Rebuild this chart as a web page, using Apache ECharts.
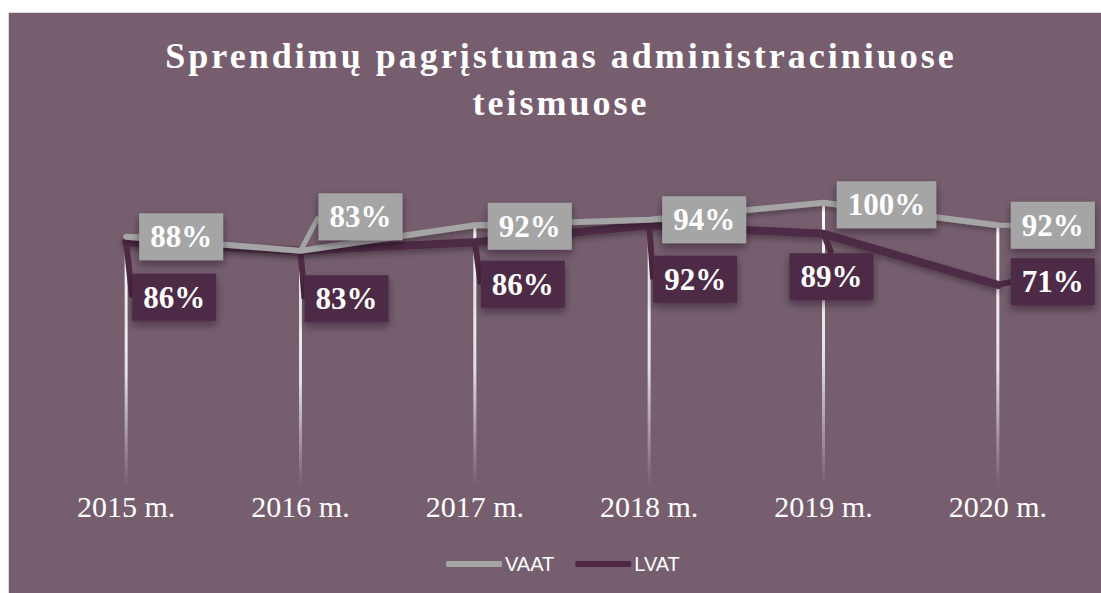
<!DOCTYPE html>
<html>
<head>
<meta charset="utf-8">
<script src="https://cdn.jsdelivr.net/npm/echarts@6/dist/echarts.min.js"></script>
<style>
  html, body { margin: 0; padding: 0; background: #fff; }
  #frame { position: absolute; left: 8px; top: 12px; border-left: 1px solid #d9d9d9; border-top: 1px solid #d9d9d9; }
  #main { width: 1092px; height: 580px; }
</style>
</head>
<body>
<div id="frame"><div id="main"></div></div>
<script>
// duomenys
var TITLE_LINES = ['Sprendimų pagrįstumas administraciniuose', 'teismuose'];
var CATEGORIES = ['2015 m.', '2016 m.', '2017 m.', '2018 m.', '2019 m.', '2020 m.'];
var VAAT = [88, 83, 92, 94, 100, 92];
var LVAT = [86, 83, 86, 92, 89, 71];

// etikečių poslinkiai (tik išdėstymas)
var VAAT_LABEL_SHIFT = [[55, 0], [60, -34], [55, 1], [55, 0], [63, 2], [55, 0]];
var LVAT_LABEL_SHIFT = [[48, 55], [46, 48], [48, 42], [46, 54], [8, 43], [55, -3]];

var BG = '#765E6F';
var GREY = '#A5A5A5';
var PLUM = '#4E2944';

// vertikalios linijos iki ašies - nuo aukštesnio taško
var drop = CATEGORIES.map(function (c, i) {
	return Math.max(VAAT[i], LVAT[i]);
});

function pct(p) {
	return p.value + '%';
}

function boxLabel(color) {
	return {
		show: true,
		position: 'inside',
		formatter: pct,
		color: '#fff',
		fontFamily: 'Liberation Serif',
		fontWeight: 'bold',
		fontSize: 31,
		lineHeight: 31,
		backgroundColor: color,
		padding: [8, 11],
		shadowColor: 'rgba(30,10,25,0.45)',
		shadowBlur: 8,
		shadowOffsetY: 4
	};
}

var chart = echarts.init(document.getElementById('main'), null, { renderer: 'svg' });

chart.setOption({
	backgroundColor: BG,
	animation: false,
	title: {
		text: TITLE_LINES.join('\n'),
		left: 552,
		top: 19,
		padding: 0,
		textAlign: 'center',
		textStyle: {
			color: '#fff',
			fontFamily: 'Liberation Serif',
			fontWeight: 'bold',
			fontSize: 36,
			lineHeight: 47
		}
	},
	legend: {
		data: ['VAAT', 'LVAT'],
		left: 437,
		top: 541,
		padding: 0,
		icon: 'roundRect',
		itemWidth: 56,
		itemHeight: 6,
		itemGap: 21,
		textStyle: {
			color: '#fff',
			fontFamily: 'Liberation Sans',
			fontSize: 20,
			padding: [0, 0, 0, -2]
		}
	},
	grid: {
		left: 30,
		right: 16,
		top: 133,
		bottom: 107,
		containLabel: false
	},
	xAxis: {
		type: 'category',
		data: CATEGORIES,
		boundaryGap: true,
		axisLine: { show: false },
		axisTick: { show: false },
		splitLine: { show: false },
		axisLabel: {
			color: '#fff',
			fontFamily: 'Liberation Serif',
			fontSize: 30,
			margin: 5
		}
	},
	yAxis: {
		type: 'value',
		min: 0,
		max: 120,
		show: false
	},
	series: [
		{
			name: 'drop',
			type: 'bar',
			data: drop,
			barWidth: 3,
			z: 1,
			silent: true,
			itemStyle: {
				color: new echarts.graphic.LinearGradient(0, 0, 0, 1, [
					{ offset: 0, color: 'rgba(255,255,255,1)' },
					{ offset: 0.55, color: 'rgba(255,255,255,0.8)' },
					{ offset: 1, color: 'rgba(255,255,255,0)' }
				])
			}
		},
		{
			name: 'LVAT',
			type: 'line',
			data: LVAT,
			z: 3,
			symbol: 'circle',
			symbolSize: 2,
			itemStyle: { color: PLUM },
			lineStyle: {
				color: PLUM,
				width: 8,
				cap: 'round',
				shadowColor: 'rgba(0,0,0,0.35)',
				shadowBlur: 6,
				shadowOffsetY: 3
			},
			label: boxLabel(PLUM),
			labelLine: {
				show: true,
				lineStyle: { color: PLUM, width: 6 }
			},
			labelLayout: function (p) {
				var s = LVAT_LABEL_SHIFT[p.dataIndex];
				return { dx: s[0], dy: s[1] };
			}
		},
		{
			name: 'VAAT',
			type: 'line',
			data: VAAT,
			z: 4,
			symbol: 'circle',
			symbolSize: 2,
			itemStyle: { color: GREY },
			lineStyle: {
				color: GREY,
				width: 6,
				cap: 'round',
				shadowColor: 'rgba(0,0,0,0.3)',
				shadowBlur: 5,
				shadowOffsetY: 3
			},
			label: boxLabel(GREY),
			labelLine: {
				show: true,
				lineStyle: { color: GREY, width: 5 }
			},
			labelLayout: function (p) {
				var s = VAAT_LABEL_SHIFT[p.dataIndex];
				return { dx: s[0], dy: s[1] };
			}
		}
	]
});

// pavadinimo raidžių tarpai (Excel stilius)
function spaceTitle() {
	var texts = document.querySelectorAll('#main svg text');
	Array.prototype.forEach.call(texts, function (t) {
		if (TITLE_LINES.indexOf(t.textContent) > -1) {
			t.setAttribute('letter-spacing', '3');
		}
	});
}
spaceTitle();
chart.on('finished', spaceTitle);
</script>
</body>
</html>
